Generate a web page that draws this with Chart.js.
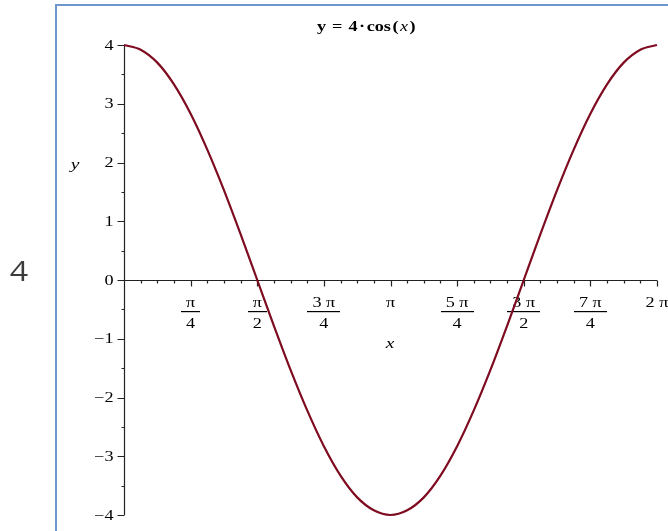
<!DOCTYPE html>
<html>
<head>
<meta charset="utf-8">
<title>y = 4·cos(x)</title>
<script src="https://cdn.jsdelivr.net/npm/chart.js@4.4.1/dist/chart.umd.min.js"></script>
<style>
    html, body { margin: 0; padding: 0; background: #fff; }
    #plot { display: block; }
</style>
</head>
<body>
<canvas id="plot" width="668" height="531"></canvas>
<script>
// ===== 数据 =====
// x 以 π/16 为单位（0 … 32 即 0 … 2π）
const xSteps = [0, 1, 2, 3, 4, 5, 6, 7, 8, 9, 10, 11, 12, 13, 14, 15, 16,
    17, 18, 19, 20, 21, 22, 23, 24, 25, 26, 27, 28, 29, 30, 31, 32];
// y 值
const yValues = [4, 3.92, 3.70, 3.33, 2.83, 2.22, 1.53, 0.78, 0, -0.78, -1.53, -2.22, -2.83, -3.33, -3.70, -3.92, -4,
    -3.92, -3.70, -3.33, -2.83, -2.22, -1.53, -0.78, 0, 0.78, 1.53, 2.22, 2.83, 3.33, 3.70, 3.92, 4];

// 刻度
const xTickSteps = [4, 8, 12, 16, 20, 24, 28, 32];
const xTickNumer = ['π', 'π', '3 π', 'π', '5 π', '3 π', '7 π', '2 π'];
const xTickDenom = ['4', '2', '4', '', '4', '2', '4', ''];
const yTickValues = [4, 3, 2, 1, 0, -1, -2, -3, -4];
const yTickLabels = ['4', '3', '2', '1', '0', '−1', '−2', '−3', '−4'];

const titleParts = [
    { text: 'y', font: 'bold 14px "Liberation Serif"' },
    { text: ' = ', font: 'bold 14px "Liberation Serif"' },
    { text: '4', font: 'bold 14px "Liberation Serif"' },
    { text: '·', font: 'bold 14px "Liberation Serif"' },
    { text: 'cos', font: 'bold 14px "Liberation Serif"' },
    { text: '(', font: 'bold 14px "Liberation Serif"' },
    { text: 'x', font: 'italic 14px "Liberation Serif"' },
    { text: ')', font: 'bold 14px "Liberation Serif"' }
];

const SX = 1.3;            // 原图文字横向被拉宽
const INK = '#000';
const CURVE = '#7e0b1f';
const FRAME = '#6c97cf';

// 横向拉伸的文字
function stretchText(ctx, str, x, y, font, align, sx) {
    ctx.save();
    ctx.font = font;
    ctx.translate(x, y);
    ctx.scale(sx, 1);
    ctx.textAlign = align;
    ctx.textBaseline = 'alphabetic';
    ctx.fillText(str, 0, 0);
    ctx.restore();
}

// ===== 外框 + 页码 =====
const framePlugin = {
    id: 'framePlugin',
    beforeDraw(chart) {
        const ctx = chart.ctx;
        ctx.save();
        ctx.fillStyle = FRAME;
        ctx.fillRect(55, 4, 613, 2);
        ctx.fillRect(55, 4, 2, 527);
        ctx.fillStyle = '#3c3c3c';
        stretchText(ctx, '4', 19, 281, '28px "Open Sans"', 'center', 1.15);
        ctx.restore();
    }
};

// ===== Maple 风格坐标轴 =====
const axesPlugin = {
    id: 'axesPlugin',
    beforeDatasetsDraw(chart) {
        const ctx = chart.ctx;
        const xs = chart.scales.x;
        const ys = chart.scales.y;
        const x0 = Math.round(xs.getPixelForValue(0)) + 0.5;
        const y0 = Math.round(ys.getPixelForValue(0)) + 0.5;

        ctx.save();
        ctx.strokeStyle = '#222';
        ctx.lineWidth = 1.2;

        // 坐标轴线
        ctx.beginPath();
        ctx.moveTo(x0, ys.getPixelForValue(4));
        ctx.lineTo(x0, ys.getPixelForValue(-4));
        ctx.moveTo(x0, y0);
        ctx.lineTo(xs.getPixelForValue(32), y0);
        ctx.stroke();

        // x 轴刻度（π/16 一格，π/4 为主刻度）
        ctx.beginPath();
        for (let k = 1; k <= 32; k++) {
            const px = Math.round(xs.getPixelForValue(k)) + 0.5;
            const len = (k % 4 === 0) ? 6 : 3;
            ctx.moveTo(px, y0);
            ctx.lineTo(px, y0 + len);
        }
        // y 轴刻度（0.5 一格）
        for (let v = -4; v <= 4; v += 0.5) {
            const py = Math.round(ys.getPixelForValue(v)) + 0.5;
            const len = Number.isInteger(v) ? 7 : 3;
            ctx.moveTo(x0, py);
            ctx.lineTo(x0 - len, py);
        }
        ctx.stroke();

        ctx.fillStyle = INK;
        const tickFont = '14px "Liberation Serif"';

        // y 刻度标签
        yTickValues.forEach((v, i) => {
            const py = ys.getPixelForValue(v);
            stretchText(ctx, yTickLabels[i], 113.5, py + 4.5, tickFont, 'right', SX);
        });

        // x 刻度标签（分数形式）
        xTickSteps.forEach((k, i) => {
            const px = xs.getPixelForValue(k);
            const num = xTickNumer[i];
            const den = xTickDenom[i];
            stretchText(ctx, num, px, 306.5, tickFont, 'center', SX);
            if (den) {
                ctx.font = tickFont;
                const w = Math.max(ctx.measureText(num).width, ctx.measureText(den).width) * SX + 10;
                ctx.fillRect(Math.round(px - w / 2), 311, Math.round(w), 1.2);
                stretchText(ctx, den, px, 328, tickFont, 'center', SX);
            }
        });

        // 轴名
        stretchText(ctx, 'y', 75, 169, 'italic 15px "Liberation Serif"', 'center', SX);
        stretchText(ctx, 'x', 390, 348, 'italic 15px "Liberation Serif"', 'center', SX);

        // 标题
        let total = 0;
        titleParts.forEach(p => {
            ctx.font = p.font;
            p.w = ctx.measureText(p.text).width * SX + 1.5;
            total += p.w;
        });
        let tx = 367 - total / 2;
        titleParts.forEach(p => {
            stretchText(ctx, p.text, tx, 31, p.font, 'left', SX);
            tx += p.w;
        });

        ctx.restore();
    }
};

const points = xSteps.map((k, i) => ({ x: k, y: yValues[i] }));

new Chart(document.getElementById('plot').getContext('2d'), {
    type: 'line',
    data: {
        datasets: [{
            label: 'y = 4·cos(x)',
            data: points,
            borderColor: CURVE,
            borderWidth: 2.2,
            pointRadius: 0,
            cubicInterpolationMode: 'monotone',
            clip: false,
            fill: false
        }]
    },
    options: {
        responsive: false,
        animation: false,
        devicePixelRatio: 1,
        layout: { padding: { left: 124, right: 11, top: 45, bottom: 16 } },
        scales: {
            x: { type: 'linear', min: 0, max: 32, display: false },
            y: { type: 'linear', min: -4, max: 4, display: false }
        },
        plugins: {
            legend: { display: false },
            tooltip: { enabled: false }
        }
    },
    plugins: [framePlugin, axesPlugin]
});
</script>
</body>
</html>
